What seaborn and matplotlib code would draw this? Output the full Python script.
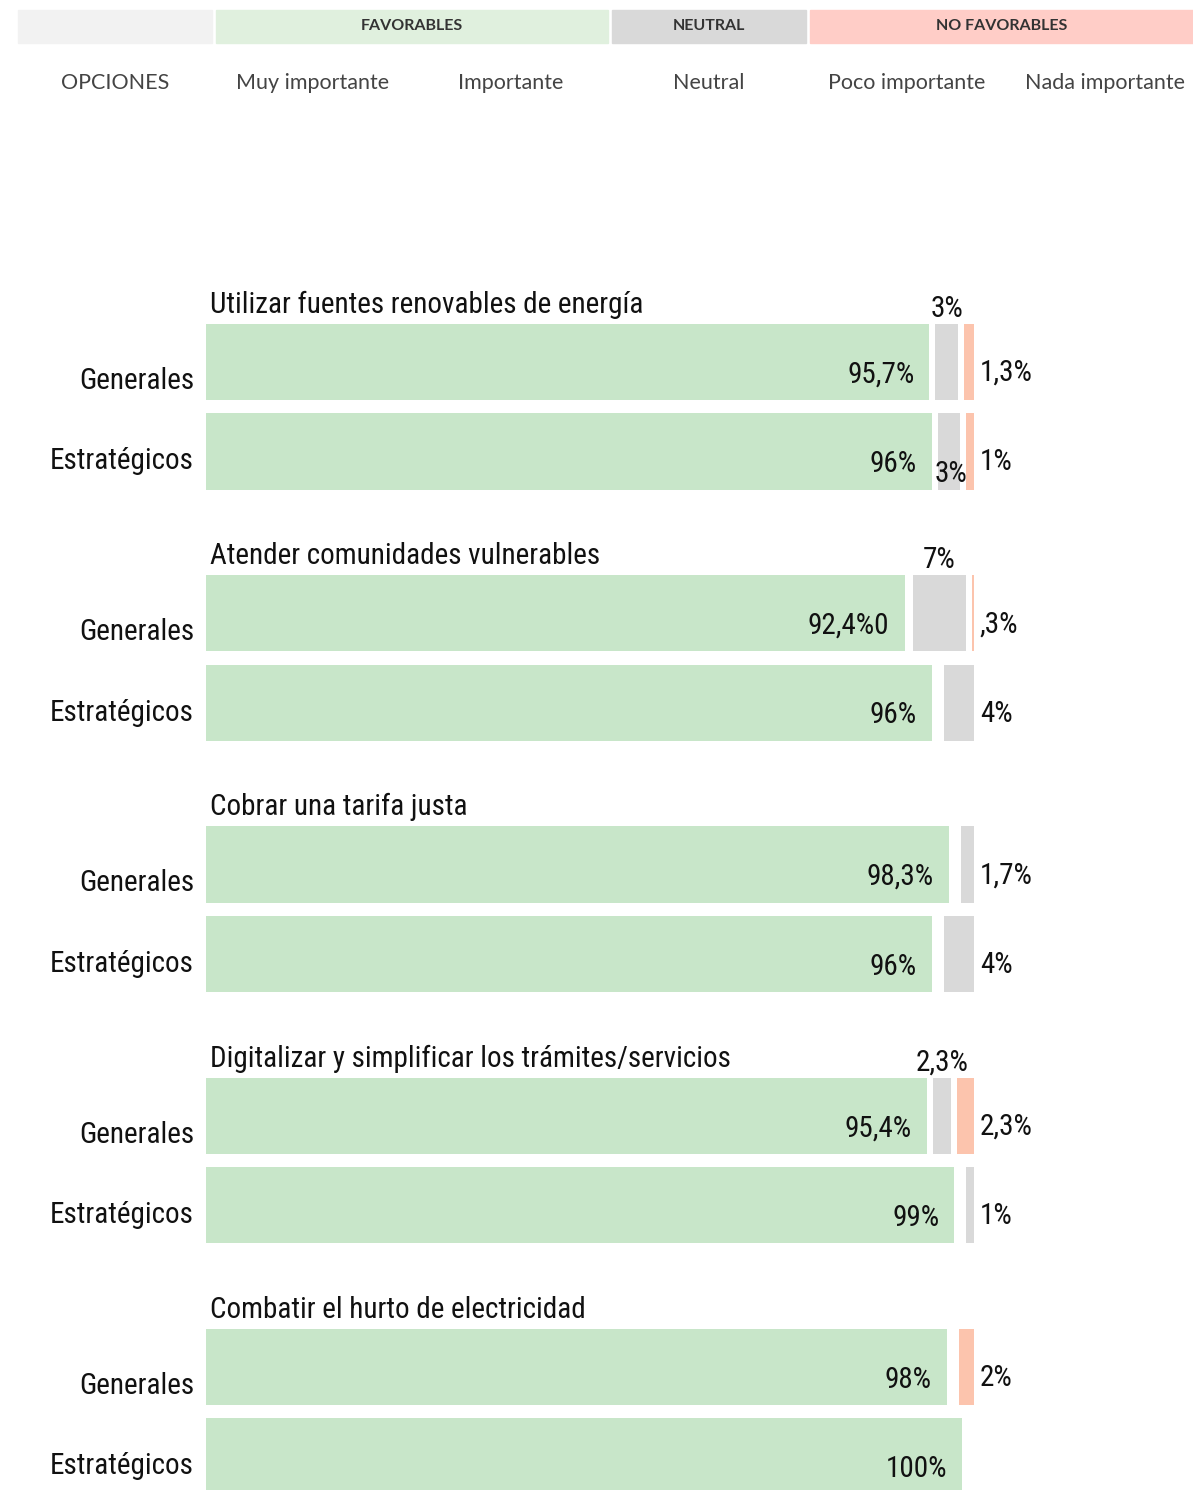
import matplotlib
matplotlib.use("Agg")
import matplotlib.pyplot as plt
from matplotlib import font_manager
from matplotlib.patches import Rectangle
import numpy as np
import pandas as pd
import seaborn as sns

# ---------------- data ----------------
categories = [
    "Utilizar fuentes renovables de energía",
    "Atender comunidades vulnerables",
    "Cobrar una tarifa justa",
    "Digitalizar y simplificar los trámites/servicios",
    "Combatir el hurto de electricidad",
]
row_names = ["Generales", "Estratégicos"]

gen_fav = [95.7, 92.4, 98.3, 95.4, 98.0]
gen_neu = [3.0, 7.0, 1.7, 2.3, 0.0]
gen_neg = [1.3, 0.3, 0.0, 2.3, 2.0]
est_fav = [96.0, 96.0, 96.0, 99.0, 100.0]
est_neu = [3.0, 4.0, 4.0, 1.0, 0.0]
est_neg = [1.0, 0.0, 0.0, 0.0, 0.0]

gen_fav_lbl = ["95,7%", "92,4%0", "98,3%", "95,4%", "98%"]
gen_neu_lbl = ["3%", "7%", "1,7%", "2,3%", ""]
gen_neg_lbl = ["1,3%", ",3%", "", "2,3%", "2%"]
est_fav_lbl = ["96%", "96%", "96%", "99%", "100%"]
est_neu_lbl = ["3%", "4%", "4%", "1%", ""]
est_neg_lbl = ["1%", "", "", "", ""]

header_groups = ["", "FAVORABLES", "NEUTRAL", "NO FAVORABLES"]
header_cols = ["OPCIONES", "Muy importante", "Importante", "Neutral",
               "Poco importante", "Nada importante"]

# ---------------- style ----------------
GREEN = "#c8e6c9"
GRAY = "#d9d9d9"
SALMON = "#fcc4ad"
TXT = "#111111"

sns.set_theme(style="white")
avail = {f.name for f in font_manager.fontManager.ttflist}
def pick(*names):
    for n in names:
        if n in avail:
            return n
    return "DejaVu Sans"
NARROW = pick("Liberation Sans Narrow", "Roboto Condensed", "Open Sans Condensed", "Liberation Sans")
HEAD = pick("Lato", "Open Sans", "Noto Sans")
plt.rcParams["font.family"] = [NARROW, "DejaVu Sans"]

W, H = 1193, 1490
fig = plt.figure(figsize=(W / 100, H / 100), dpi=100)

# header boxes (figure-level decoration)
hdr_spans = [(18, 212), (216, 608), (612, 806), (810, 1193)]
hdr_colors = ["#f2f2f2", "#e0f0de", "#d9d9d9", "#ffcdc7"]
for (x0, x1), c, t in zip(hdr_spans, hdr_colors, header_groups):
    fig.patches.append(Rectangle((x0 / W, 1 - 43 / H), (x1 - x0) / W, 33 / H,
                                 transform=fig.transFigure, color=c, zorder=0))
    if t:
        fig.text((x0 + x1) / 2 / W, 1 - 26 / H, t, ha="center", va="center",
                 fontsize=11.5, fontweight="bold", color="#333333", family=HEAD)
for i, t in enumerate(header_cols):
    fig.text((115 + 198 * i) / W, 1 - 83 / H, t, ha="center", va="center",
             fontsize=15.5, color="#444444", family=HEAD)

# ---------------- bars ----------------
PX = 7.56            # pixels per percent
X0 = 206             # left pixel of bars
TOP = 110            # top pixel of axes
PITCH = 251.25       # pixels between groups
G0 = 362             # pixel center of first bar
ax = fig.add_axes([X0 / W, 0, (W - X0) / W, (H - TOP) / H])

SUB = 0.356          # Estratégicos offset within group
BH = 0.304           # bar height (data units)

pos = []
fav = []
for g in range(len(categories)):
    pos += [g, g + SUB]
    fav += [gen_fav[g], est_fav[g]]
df = pd.DataFrame({"pos": pos, "fav": fav})
sns.barplot(data=df, x="fav", y="pos", orient="y", native_scale=True,
            width=BH / SUB, color=GREEN, saturation=1, errorbar=None, ax=ax,
            linewidth=0)

END = 100 + 12 / PX
GAP = 6 / PX
dy = 11 / PITCH
FS = 21

for g, cat in enumerate(categories):
    rows = [
        (g, gen_fav[g], gen_neu[g], gen_neg[g], gen_fav_lbl[g], gen_neu_lbl[g], gen_neg_lbl[g], True),
        (g + SUB, est_fav[g], est_neu[g], est_neg[g], est_fav_lbl[g], est_neu_lbl[g], est_neg_lbl[g], False),
    ]
    # title
    ax.text(0.5, g - BH / 2 - 0.02, cat, ha="left", va="bottom", fontsize=FS, color=TXT)
    for (y, fv, nu, ng, lf, ln, lg, is_gen) in rows:
        # right-aligned neutral / negative segments
        right = END
        if ng > 0:
            neg_left = END - ng
            ax.barh(y, ng, left=neg_left, height=BH, color=SALMON, linewidth=0)
            right = neg_left - GAP
        if nu > 0:
            ax.barh(y, nu, left=right - nu, height=BH, color=GRAY, linewidth=0)
        # green label
        ax.text(fv - 2.0, y + 0.05, lf, ha="right", va="center", fontsize=FS, color=TXT)
        # row name
        ax.text(-12 / PX, y + (0.075 if is_gen else 0.04), row_names[0 if is_gen else 1],
                ha="right", va="center", fontsize=FS, color=TXT, clip_on=False)
        # side labels
        lbls = [t for t in (ln, lg) if t]
        xr = END + 6 / PX
        if len(lbls) == 2:
            cx = right - nu / 2
            if is_gen:
                ax.text(cx, y - BH / 2 - 0.005, ln, ha="center", va="bottom", fontsize=FS, color=TXT)
            else:
                ax.text(cx + 0.3, y + BH / 2 - 0.005, ln, ha="center", va="bottom", fontsize=FS, color=TXT)
            ax.text(xr, y + dy, lg, ha="left", va="center", fontsize=FS, color=TXT)
        elif len(lbls) == 1:
            ax.text(xr, y + dy, lbls[0], ha="left", va="center", fontsize=FS, color=TXT)

ax.set_xlim(0, (W - X0) / PX)
ax.set_ylim((H - G0) / PITCH, -(G0 - TOP) / PITCH)
ax.set_axis_off()

fig.savefig("out.png", dpi=100)
